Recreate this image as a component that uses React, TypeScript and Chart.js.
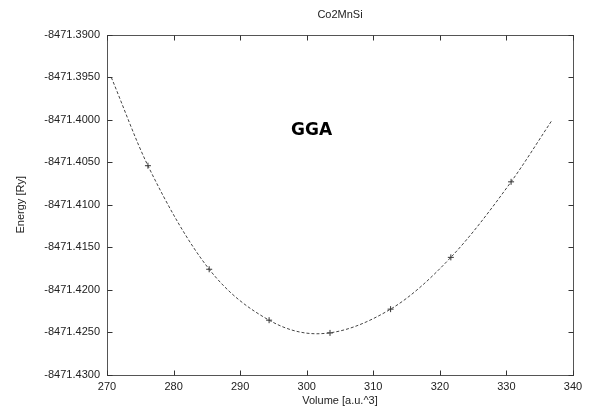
import React, { useEffect, useRef } from "react";
import { Chart, registerables } from "chart.js";

Chart.register(...registerables);

const chartTitle = "Co2MnSi";
const xAxisTitle = "Volume [a.u.^3]";
const yAxisTitle = "Energy [Ry]";
const annotation = "GGA";

const volumes = [276.15, 285.35, 294.35, 303.5, 312.6, 321.65, 330.7];
const energies = [-8471.4054, -8471.4176, -8471.4236, -8471.4251, -8471.4223, -8471.4162, -8471.4073];

const fitVolumes = [270.65, 276.15, 285.35, 294.35, 301.5, 312.6, 321.65, 330.7, 336.8];
const fitEnergies = [-8471.395, -8471.4054, -8471.4176, -8471.4236, -8471.4252, -8471.4223, -8471.4162, -8471.4073, -8471.4001];

const xTicks = [270, 280, 290, 300, 310, 320, 330, 340];
const yTicks = [-8471.39, -8471.395, -8471.4, -8471.405, -8471.41, -8471.415, -8471.42, -8471.425, -8471.43];

const FONT = "'Liberation Sans', Arial, sans-serif";

export default function App() {
  const ref = useRef<HTMLCanvasElement>(null);
  useEffect(() => {
    document.body.style.margin = "0";
    const frame = {
      id: "frame",
      afterDraw(chart: any) {
        const { ctx, chartArea: a, scales } = chart;
        ctx.save();
        ctx.strokeStyle = "#555";
        ctx.lineWidth = 1;
        const L = Math.round(a.left) + 0.5, R = Math.round(a.right) + 0.5;
        const T = Math.round(a.top) + 0.5, B = Math.round(a.bottom) + 0.5;
        ctx.strokeRect(L, T, R - L, B - T);
        ctx.strokeStyle = "#333";
        ctx.beginPath();
        xTicks.forEach((v) => {
          const x = Math.round(scales.x.getPixelForValue(v)) + 0.5;
          ctx.moveTo(x, B); ctx.lineTo(x, B - 5);
          ctx.moveTo(x, T); ctx.lineTo(x, T + 5);
        });
        yTicks.forEach((v) => {
          const y = Math.round(scales.y.getPixelForValue(v)) + 0.5;
          ctx.moveTo(L, y); ctx.lineTo(L + 5, y);
          ctx.moveTo(R, y); ctx.lineTo(R - 5, y);
        });
        ctx.stroke();
        ctx.fillStyle = "#222";
        ctx.textAlign = "center";
        ctx.textBaseline = "middle";
        ctx.font = `11px ${FONT}`;
        ctx.fillText(chartTitle, (a.left + a.right) / 2, 15);
        ctx.fillText(xAxisTitle, (a.left + a.right) / 2, 401);
        ctx.save();
        ctx.translate(21, (a.top + a.bottom) / 2);
        ctx.rotate(-Math.PI / 2);
        ctx.fillText(yAxisTitle, 0, 0);
        ctx.restore();
        ctx.fillStyle = "#000";
        ctx.font = `bold 17px 'DejaVu Sans', sans-serif`;
        ctx.fillText(annotation, 311.5, 131);
        ctx.restore();
      },
    };
    const chart = new Chart(ref.current!, {
      type: "scatter",
      data: {
        datasets: [
          {
            data: fitVolumes.map((x, i) => ({ x, y: fitEnergies[i] })),
            showLine: true,
            borderColor: "#444",
            borderWidth: 1,
            borderDash: [3, 2],
            pointRadius: 0,
            cubicInterpolationMode: "monotone",
            fill: false,
          },
          {
            data: volumes.map((x, i) => ({ x, y: energies[i] })),
            showLine: false,
            pointStyle: "cross",
            pointRadius: 3,
            borderColor: "#333",
            borderWidth: 1,
          },
        ],
      } as any,
      options: {
        animation: false,
        responsive: false,
        layout: { padding: { left: 0, top: 35, right: 16, bottom: 0 } },
        plugins: { legend: { display: false }, tooltip: { enabled: false }, title: { display: false } },
        scales: {
          x: {
            type: "linear",
            min: 270,
            max: 340,
            afterBuildTicks: (s: any) => { s.ticks = xTicks.map((value) => ({ value })); },
            afterFit: (s: any) => { s.height = 35.5; },
            grid: { display: false, drawTicks: false },
            border: { display: false },
            ticks: { padding: 6, color: "#222", font: { family: FONT, size: 11 }, callback: (v: any) => String(v) },
          },
          y: {
            type: "linear",
            min: -8471.43,
            max: -8471.39,
            afterBuildTicks: (s: any) => { s.ticks = yTicks.map((value) => ({ value })); },
            afterFit: (s: any) => { s.width = 107; },
            grid: { display: false, drawTicks: false },
            border: { display: false },
            ticks: { padding: 7, color: "#222", font: { family: FONT, size: 11 }, callback: (v: any) => Number(v).toFixed(4) },
          },
        },
      } as any,
      plugins: [frame],
    });
    return () => chart.destroy();
  }, []);
  return <canvas ref={ref} width={589} height={410} style={{ display: "block" }} />;
}
